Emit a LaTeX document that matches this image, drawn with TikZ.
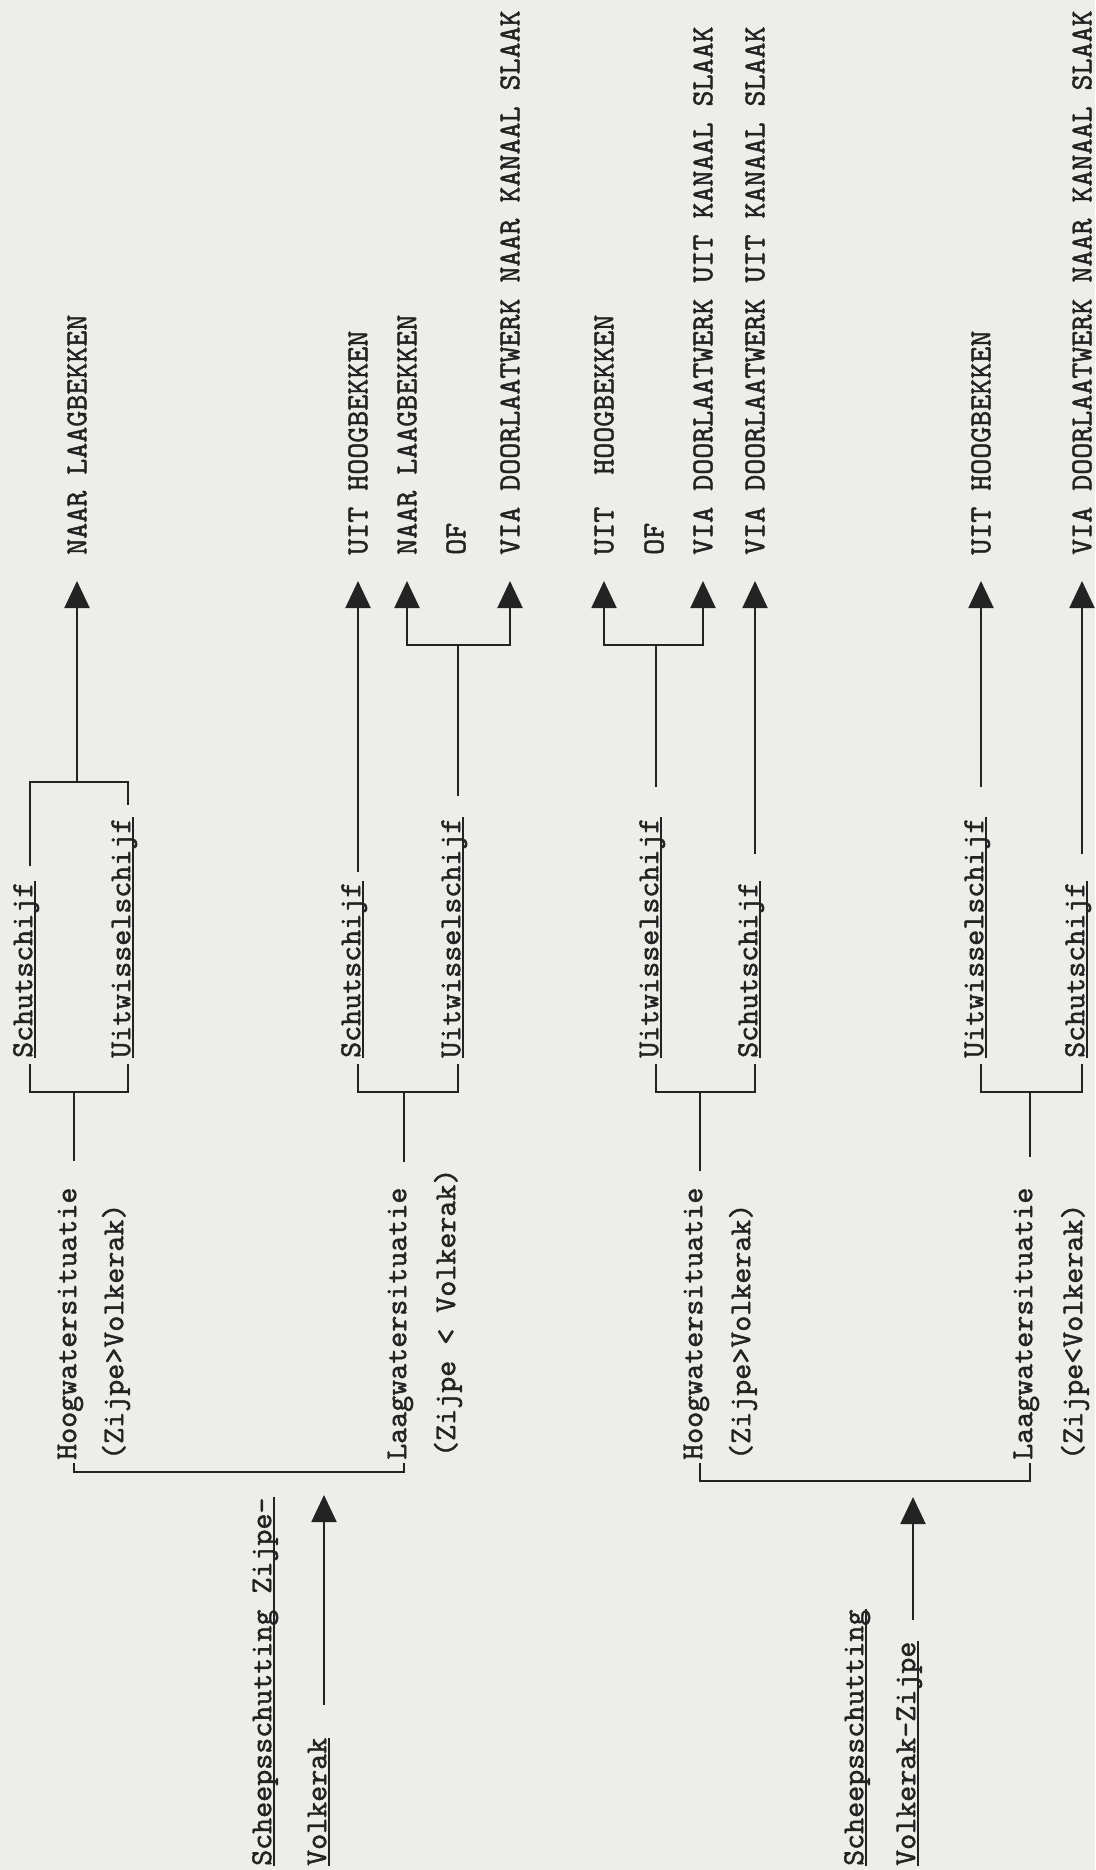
\documentclass[tikz,border=0pt]{standalone}
\usepackage{fontspec}
\setmonofont{lmmono10-regular.otf}[FakeBold=1.4]
\usepackage{tikz}
\usetikzlibrary{arrows.meta}
\definecolor{paper}{RGB}{237,237,233}
\definecolor{ink}{RGB}{35,35,35}

\begin{document}
\begin{tikzpicture}[
  x=1pt, y=-1pt,
  font=\ttfamily\fontsize{30.5pt}{36pt}\selectfont,
  lab/.style={rotate=90, anchor=mid west, inner sep=0pt, text=ink},
  dest/.style={rotate=90, anchor=west, inner sep=0pt, text=ink},
  wire/.style={draw=ink, line width=2pt},
  arr/.style={wire, -{Triangle[width=25pt, length=27pt]}},
  arrs/.style={wire, {Triangle[width=25pt, length=27pt]}-{Triangle[width=25pt, length=27pt]}},
  uline/.style={draw=ink, line width=1.6pt}
]
  \fill[paper] (0,0) rectangle (1095,1870);

  % bestemmingen
  \foreach \n/\x/\t in {d1/77/NAAR LAAGBEKKEN, d2/358/UIT HOOGBEKKEN,
      d3/407/NAAR LAAGBEKKEN, d4/456/OF, d5/510/VIA DOORLAATWERK NAAR KANAAL SLAAK,
      d6/604/UIT\ \ HOOGBEKKEN, d7/654/OF, d8/703/VIA DOORLAATWERK UIT KANAAL SLAAK,
      d9/755/VIA DOORLAATWERK UIT KANAAL SLAAK, d10/981/UIT HOOGBEKKEN,
      d11/1082/VIA DOORLAATWERK NAAR KANAAL SLAAK}
    \node[dest] (\n) at (\x,555) {\t};

  % Zijpe-Volkerak
  \node[lab] (titA) at (269,1866) {Scheepsschutting Zijpe-};
  \node[lab] (volA) at (324,1866) {Volkerak};
  \node[lab] (hoogA) at (74,1460) {Hoogwatersituatie};
  \node[lab] (zijA) at (121,1460) {(Zijpe>Volkerak)};
  \node[lab] (laagB) at (404,1460) {Laagwatersituatie};
  \node[lab] (zijB) at (453,1457) {(Zijpe < Volkerak)};
  \node[lab] (schA) at (30,1058) {Schutschijf};
  \node[lab] (uitA) at (128,1058) {Uitwisselschijf};
  \node[lab] (schB) at (358,1058) {Schutschijf};
  \node[lab] (uitB) at (458,1058) {Uitwisselschijf};

  % Volkerak-Zijpe
  \node[lab] (titC) at (861,1866) {Scheepsschutting};
  \node[lab] (volC) at (913,1866) {Volkerak-Zijpe};
  \node[lab] (hoogC) at (700,1460) {Hoogwatersituatie};
  \node[lab] (zijC) at (748,1460) {(Zijpe>Volkerak)};
  \node[lab] (laagD) at (1030,1460) {Laagwatersituatie};
  \node[lab] (zijD) at (1080,1460) {(Zijpe<Volkerak)};
  \node[lab] (uitC) at (656,1058) {Uitwisselschijf};
  \node[lab] (schC) at (755,1058) {Schutschijf};
  \node[lab] (uitD) at (981,1058) {Uitwisselschijf};
  \node[lab] (schD) at (1082,1058) {Schutschijf};

  \foreach \n in {titA, volA, schA, uitA, schB, uitB, titC, volC, uitC, schC, uitD, schD}
    \draw[uline] ([xshift=3pt]\n.base west) -- ([xshift=3pt]\n.base east);

  % knooppunten
  \coordinate (mAB) at (324,1472);
  \coordinate (mCD) at (913,1481);
  \coordinate (kA) at (74,1092);
  \coordinate (kB) at (404,1092);
  \coordinate (kC) at (700,1092);
  \coordinate (kD) at (1030,1092);
  \coordinate (jA) at (77,782);
  \coordinate (jB) at (458,645);
  \coordinate (jC) at (656,645);

  % Zijpe-Volkerak
  \draw[arr, shorten <=33pt, shorten >=23pt] (volA.mid east) -- (mAB);
  \draw[wire] ([yshift=-3pt]hoogA.mid west) |- (mAB) -| ([yshift=-3pt]laagB.mid west);
  \draw[wire, shorten <=26pt] (hoogA.mid east) -- (kA);
  \draw[wire] ([yshift=-6pt]schA.mid west) |- (kA) -| ([yshift=-6pt]uitA.mid west);
  \draw[wire, shorten <=15pt, shorten >=12pt] (schA.mid east) |- (jA) -| (uitA.mid east);
  \draw[arr] (jA) -- ([yshift=-26pt]d1.west);
  \draw[wire, shorten <=25pt] (laagB.mid east) -- (kB);
  \draw[wire] ([yshift=-6pt]schB.mid west) |- (kB) -| ([yshift=-6pt]uitB.mid west);
  \draw[arr, shorten <=9pt] (schB.mid east) -- ([yshift=-26pt]d2.west);
  \draw[wire, shorten <=21pt] (uitB.mid east) -- (jB);
  \draw[arrs] ([yshift=-26pt]d3.west) |- (jB) -| ([yshift=-26pt]d5.west);

  % Volkerak-Zijpe
  \draw[arr, shorten <=21pt, shorten >=16pt] (volC.mid east) -- (mCD);
  \draw[wire] ([yshift=-3pt]hoogC.mid west) |- (mCD) -| ([yshift=-3pt]laagD.mid west);
  \draw[wire, shorten <=16pt] (hoogC.mid east) -- (kC);
  \draw[wire] ([yshift=-6pt]uitC.mid west) |- (kC) -| ([yshift=-6pt]schC.mid west);
  \draw[wire, shorten <=30pt] (uitC.mid east) -- (jC);
  \draw[arrs] ([yshift=-26pt]d6.west) |- (jC) -| ([yshift=-26pt]d8.west);
  \draw[arr, shorten <=27pt] (schC.mid east) -- ([yshift=-26pt]d9.west);
  \draw[wire, shorten <=30pt] (laagD.mid east) -- (kD);
  \draw[wire] ([yshift=-6pt]uitD.mid west) |- (kD) -| ([yshift=-6pt]schD.mid west);
  \draw[arr, shorten <=30pt] (uitD.mid east) -- ([yshift=-26pt]d10.west);
  \draw[arr, shorten <=27pt] (schD.mid east) -- ([yshift=-26pt]d11.west);
\end{tikzpicture}
\end{document}
